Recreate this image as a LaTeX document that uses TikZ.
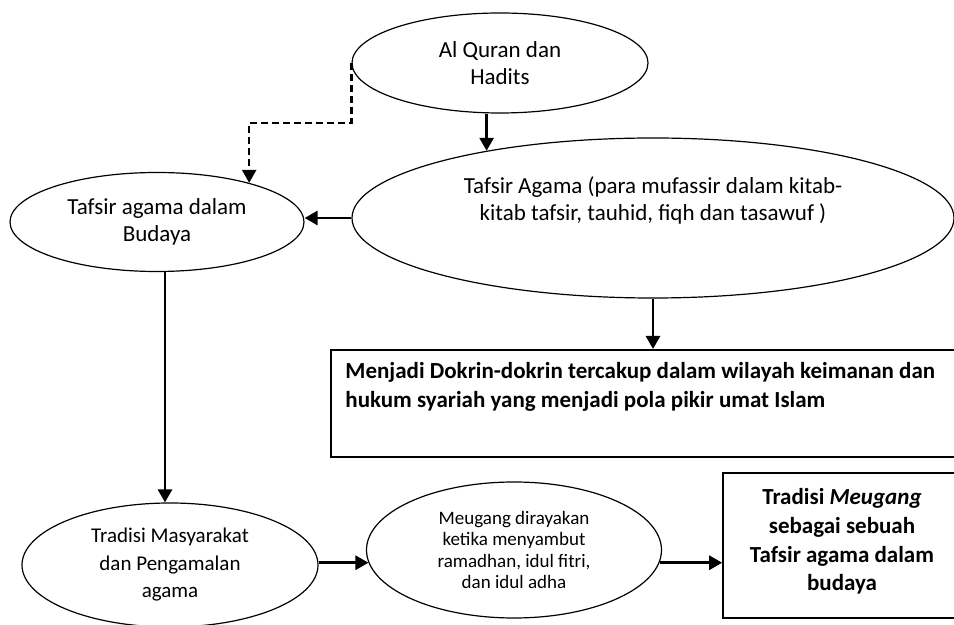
\documentclass[tikz,border=0pt]{standalone}
\usepackage{fontspec}
\setmainfont{Carlito}
\usetikzlibrary{shapes.geometric, arrows.meta, positioning}

\begin{document}
\begin{tikzpicture}[x=0.5pt, y=-0.5pt,
  oval/.style={ellipse, draw, line width=0.6pt, inner sep=0pt, align=center,
    font=\fontsize{11.5}{13.5}\selectfont},
  kotak/.style={rectangle, draw, line width=0.8pt, inner sep=0pt},
  tebal/.style={font=\fontsize{11.5}{14.3}\selectfont\bfseries},
  panah/.style={line width=1.4pt, -{Triangle[length=6.5pt, width=7pt]}}]
\useasboundingbox (0,0) rectangle (954,625);
% Sumber dan tafsir
\node[oval, minimum width=148pt, minimum height=50pt] (quran) at (500,63)
  {Al Quran dan\\Hadits};
\node[oval, minimum width=301pt, minimum height=80pt] (tafsir) at (653,218) {};
\node[align=center, font=\fontsize{11.5}{13.5}\selectfont] (tafsirteks)
  at ([yshift=9pt]tafsir.center)
  {Tafsir Agama (para mufassir dalam kitab-\\kitab tafsir, tauhid, fiqh dan tasawuf )};
\node[oval, minimum width=147pt, minimum height=49.5pt] (budaya) at (157,222)
  {Tafsir agama dalam\\Budaya};
% Doktrin
\node[kotak, minimum width=316pt, minimum height=53.5pt, anchor=north west]
  (doktrin) at (330,349) {};
\node[tebal, align=left, inner sep=0pt, anchor=north west] (doktrinteks)
  at ([xshift=7.5pt, yshift=-6.5pt]doktrin.north west)
  {Menjadi Dokrin-dokrin tercakup dalam wilayah keimanan dan\\hukum syariah yang menjadi pola pikir umat Islam};
% Tradisi
\node[oval, minimum width=148pt, minimum height=62pt,
  font=\fontsize{10.5}{13.75}\selectfont] (tradisi) at (170,565)
  {Tradisi Masyarakat\\dan Pengamalan\\agama};
\node[oval, minimum width=147.5pt, minimum height=68pt,
  font=\fontsize{9.5}{10.8}\selectfont] (meugang) at (514,550)
  {Meugang dirayakan\\ketika menyambut\\ramadhan, idul fitri,\\dan idul adha};
\node[kotak, minimum width=119pt, minimum height=72.5pt] (hasil) at (842,545.5) {};
\node[tebal, align=center] (hasilteks) at ([yshift=2pt]hasil.center)
  {Tradisi \textit{Meugang}\\sebagai sebuah\\Tafsir agama dalam\\budaya};
% Panah
\draw[panah] (quran.south -| tafsir.158) -- (tafsir.158);
\draw[panah, line width=1.2pt, dash pattern=on 3.5pt off 2pt]
  (quran.west) -- ++(0,60) -| (budaya.23);
\draw[panah] (tafsir.west) -- (tafsir.west -| budaya.east);
\draw[panah] (tafsir.south) -- (tafsir.south |- doktrin.north);
\draw[panah] ([xshift=4pt]budaya.south) -- ([xshift=4pt]budaya.south |- tradisi.north);
\draw[panah] (meugang.185 -| tradisi.east) -- (meugang.185);
\draw[panah] (meugang.-5) -- (meugang.-5 -| hasil.west);
\end{tikzpicture}
\end{document}
